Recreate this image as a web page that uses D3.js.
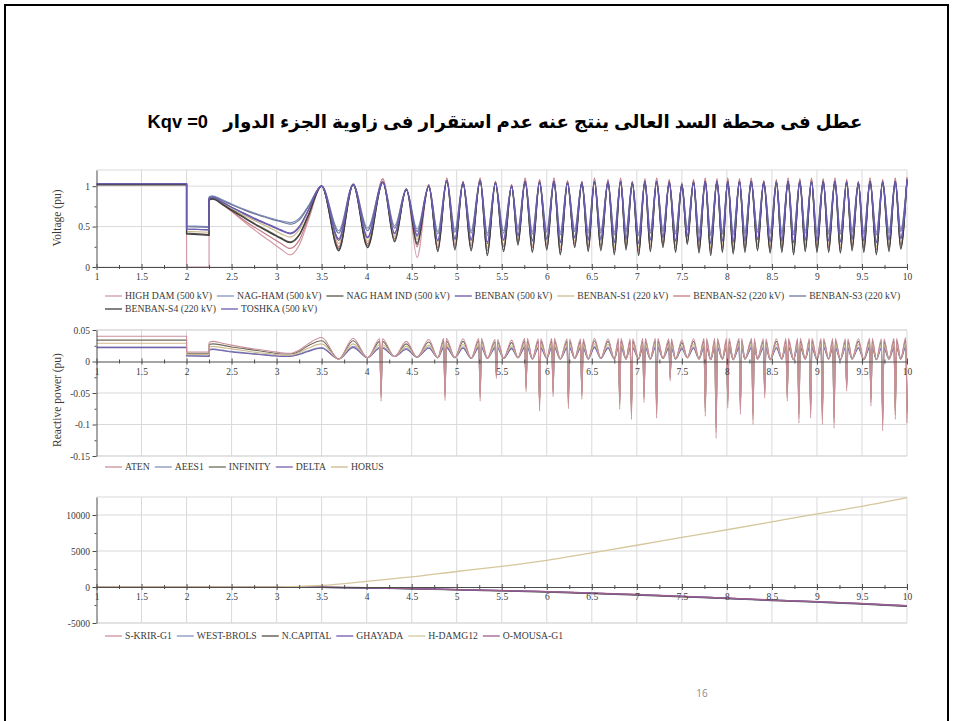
<!DOCTYPE html>
<html>
<head>
<meta charset="utf-8">
<script src="https://cdn.jsdelivr.net/npm/d3@7"></script>
<style>
  html, body { margin: 0; padding: 0; background: #fff; }
  svg { display: block; }
</style>
</head>
<body>
<svg id="slide" width="954" height="721"></svg>
<script>
// ---------------- data ----------------
const titleText = "عطل فى محطة السد العالى ينتج عنه عدم استقرار فى زاوية الجزء الدوار   Kqv =0";
const pageNumber = "16";

const xTicks = [1, 1.5, 2, 2.5, 3, 3.5, 4, 4.5, 5, 5.5, 6, 6.5, 7, 7.5, 8, 8.5, 9, 9.5, 10];
const xTickLabels = ["1", "1.5", "2", "2.5", "3", "3.5", "4", "4.5", "5", "5.5", "6", "6.5", "7", "7.5", "8", "8.5", "9", "9.5", "10"];
const xMinorTicks = [1.25, 1.75, 2.25, 2.75, 3.25, 3.75, 4.25, 4.75, 5.25, 5.75, 6.25, 6.75, 7.25, 7.75, 8.25, 8.75, 9.25, 9.75];

// event times: fault applied / cleared
const faultOn = 2, faultOff = 2.25;

// ----- voltage panel -----
const voltTicks = [0, 0.5, 1];
const voltTickLabels = ["0", "0.5", "1"];
const voltMinor = [0.25, 0.75];
const voltNames = ["HIGH DAM (500 kV)", "NAG-HAM (500 kV)", "NAG HAM IND (500 kV)", "BENBAN (500 kV)",
  "BENBAN-S1 (220 kV)", "BENBAN-S2 (220 kV)", "BENBAN-S3 (220 kV)", "BENBAN-S4 (220 kV)", "TOSHKA (500 kV)"];
const voltColors = ["#d49aa5", "#8193bf", "#56564b", "#6c56a6", "#cdbb8c", "#c47a86", "#6e7499", "#3e3e3e", "#6a5cb0"];
const voltPre = [1.03, 1.03, 1.02, 1.03, 1.02, 1.02, 1.03, 1.02, 1.03];
const voltFaultStart = [0, 0.51, 0.42, 0.47, 0.44, 0.41, 0.50, 0.41, 0.47];
const voltFaultEnd = [0, 0.50, 0.40, 0.46, 0.43, 0.40, 0.49, 0.39, 0.46];

const recT = [2.25, 2.29, 2.4, 2.5, 2.65, 2.8, 2.95, 3.05, 3.15, 3.25, 3.35, 3.5];
const recHighDam   = [0.86, 0.87, 0.78, 0.69, 0.55, 0.42, 0.30, 0.22, 0.15, 0.27, 0.57, 1.00];
const recNagHam    = [0.87, 0.88, 0.83, 0.78, 0.71, 0.65, 0.60, 0.57, 0.55, 0.60, 0.75, 1.00];
const recNagHamInd = [0.84, 0.85, 0.78, 0.71, 0.61, 0.51, 0.42, 0.36, 0.31, 0.40, 0.64, 1.00];
const recBenban    = [0.85, 0.86, 0.80, 0.74, 0.66, 0.58, 0.51, 0.46, 0.42, 0.50, 0.70, 1.00];
const recBenbanS1  = [0.84, 0.85, 0.79, 0.72, 0.63, 0.55, 0.47, 0.41, 0.37, 0.46, 0.68, 1.00];
const recBenbanS2  = [0.84, 0.85, 0.77, 0.69, 0.57, 0.46, 0.36, 0.29, 0.23, 0.33, 0.60, 1.00];
const recBenbanS3  = [0.86, 0.87, 0.82, 0.77, 0.70, 0.64, 0.59, 0.56, 0.53, 0.58, 0.74, 1.00];
const recBenbanS4  = [0.83, 0.84, 0.77, 0.70, 0.60, 0.50, 0.41, 0.35, 0.30, 0.39, 0.63, 1.00];
const recToshka    = [0.85, 0.86, 0.80, 0.74, 0.65, 0.57, 0.50, 0.45, 0.41, 0.49, 0.70, 1.00];

// rotor-swing oscillation: times of the maxima and minima after 3.5 s
const swingPeakT = [3.85, 4.18, 4.44, 4.69, 4.89, 5.07, 5.26, 5.43, 5.61, 5.76,
  5.92, 6.08, 6.23, 6.39, 6.53, 6.68, 6.82, 6.95, 7.09, 7.22,
  7.36, 7.5, 7.63, 7.76, 7.89, 8.01, 8.14, 8.27, 8.41, 8.55,
  8.68, 8.81, 8.94, 9.07, 9.2, 9.33, 9.46, 9.59, 9.73, 9.87,
  10.0];
const swingTroughT = [3.69, 4.01, 4.31, 4.56, 4.79, 4.98, 5.16, 5.34, 5.52, 5.68,
  5.84, 6.0, 6.15, 6.31, 6.46, 6.6, 6.75, 6.88, 7.02, 7.15,
  7.29, 7.43, 7.56, 7.69, 7.82, 7.95, 8.07, 8.2, 8.34, 8.48,
  8.61, 8.74, 8.87, 9.0, 9.13, 9.26, 9.39, 9.52, 9.66, 9.8,
  9.93];
const peakBus = [1.02, 1.05, 0.96, 1.00, 1.07, 1.04, 1.07, 1.04, 1.00, 1.06,
  1.05, 1.06, 1.04, 1.04, 1.06, 1.05, 1.06, 1.04, 1.06, 1.06,
  1.05, 1.02, 1.05, 1.06, 1.06, 1.06, 1.06, 1.06, 1.05, 1.05,
  1.06, 1.06, 1.06, 1.06, 1.06, 1.05, 1.04, 1.06, 1.05, 1.06,
  1.08];
const peakHighDam = [1.03, 1.09, 0.97, 1.02, 1.10, 1.06, 1.10, 1.06, 1.02, 1.10,
  1.08, 1.10, 1.07, 1.06, 1.10, 1.08, 1.10, 1.06, 1.09, 1.10,
  1.08, 1.04, 1.08, 1.10, 1.09, 1.10, 1.09, 1.10, 1.07, 1.08,
  1.10, 1.09, 1.10, 1.09, 1.10, 1.08, 1.06, 1.10, 1.08, 1.10,
  1.11];
const troughHighDam = [0.24, 0.28, 0.35, 0.12, 0.24, 0.27, 0.26, 0.20, 0.25, 0.32,
  0.24, 0.27, 0.22, 0.29, 0.25, 0.26, 0.22, 0.27, 0.20, 0.25,
  0.29, 0.24, 0.32, 0.23, 0.21, 0.24, 0.22, 0.24, 0.26, 0.23,
  0.24, 0.22, 0.25, 0.24, 0.24, 0.23, 0.26, 0.24, 0.22, 0.25,
  0.28];
const troughNagHam = [0.45, 0.48, 0.51, 0.47, 0.44, 0.46, 0.45, 0.42, 0.45, 0.49,
  0.44, 0.46, 0.43, 0.47, 0.45, 0.45, 0.43, 0.46, 0.42, 0.45,
  0.47, 0.44, 0.49, 0.44, 0.42, 0.44, 0.43, 0.44, 0.46, 0.44,
  0.44, 0.43, 0.45, 0.44, 0.44, 0.44, 0.46, 0.44, 0.43, 0.45,
  0.47];
const troughNagHamInd = [0.22, 0.26, 0.33, 0.30, 0.21, 0.23, 0.22, 0.16, 0.21, 0.29,
  0.20, 0.23, 0.17, 0.26, 0.21, 0.22, 0.17, 0.23, 0.16, 0.21,
  0.26, 0.20, 0.30, 0.19, 0.16, 0.20, 0.18, 0.20, 0.22, 0.19,
  0.20, 0.17, 0.21, 0.20, 0.20, 0.19, 0.22, 0.20, 0.17, 0.21,
  0.24];
const troughBenban = [0.33, 0.36, 0.41, 0.38, 0.32, 0.34, 0.33, 0.29, 0.33, 0.38,
  0.32, 0.34, 0.30, 0.36, 0.33, 0.33, 0.30, 0.34, 0.29, 0.33,
  0.36, 0.32, 0.38, 0.31, 0.29, 0.32, 0.31, 0.32, 0.34, 0.31,
  0.32, 0.30, 0.33, 0.32, 0.32, 0.31, 0.34, 0.32, 0.30, 0.33,
  0.35];
const troughBenbanS1 = [0.29, 0.32, 0.38, 0.34, 0.28, 0.30, 0.29, 0.24, 0.28, 0.35,
  0.27, 0.30, 0.25, 0.32, 0.28, 0.29, 0.25, 0.30, 0.24, 0.28,
  0.32, 0.27, 0.35, 0.26, 0.24, 0.27, 0.26, 0.27, 0.29, 0.26,
  0.27, 0.25, 0.28, 0.27, 0.27, 0.26, 0.29, 0.27, 0.25, 0.28,
  0.31];
const troughBenbanS2 = [0.25, 0.29, 0.35, 0.25, 0.24, 0.27, 0.26, 0.20, 0.25, 0.32,
  0.24, 0.27, 0.21, 0.29, 0.25, 0.26, 0.21, 0.27, 0.20, 0.25,
  0.29, 0.24, 0.32, 0.23, 0.20, 0.24, 0.22, 0.24, 0.26, 0.23,
  0.24, 0.21, 0.25, 0.24, 0.24, 0.23, 0.26, 0.24, 0.21, 0.25,
  0.28];
const troughBenbanS3 = [0.42, 0.45, 0.48, 0.44, 0.41, 0.43, 0.42, 0.39, 0.42, 0.46,
  0.41, 0.43, 0.40, 0.44, 0.42, 0.42, 0.40, 0.43, 0.39, 0.42,
  0.44, 0.41, 0.46, 0.41, 0.39, 0.41, 0.40, 0.41, 0.43, 0.41,
  0.41, 0.40, 0.42, 0.41, 0.41, 0.41, 0.43, 0.41, 0.40, 0.42,
  0.44];
const troughBenbanS4 = [0.20, 0.24, 0.31, 0.28, 0.19, 0.21, 0.20, 0.14, 0.19, 0.27,
  0.18, 0.21, 0.15, 0.24, 0.19, 0.20, 0.15, 0.21, 0.14, 0.19,
  0.24, 0.18, 0.28, 0.17, 0.14, 0.18, 0.16, 0.18, 0.20, 0.17,
  0.18, 0.15, 0.19, 0.18, 0.18, 0.17, 0.20, 0.18, 0.15, 0.19,
  0.22];
const troughToshka = [0.35, 0.37, 0.42, 0.40, 0.33, 0.35, 0.34, 0.31, 0.34, 0.39,
  0.33, 0.35, 0.31, 0.37, 0.34, 0.35, 0.31, 0.35, 0.30, 0.34,
  0.37, 0.33, 0.39, 0.32, 0.30, 0.33, 0.32, 0.33, 0.35, 0.32,
  0.33, 0.31, 0.34, 0.33, 0.33, 0.32, 0.35, 0.33, 0.31, 0.34,
  0.36];

// ----- reactive power panel -----
const qTicks = [0.05, 0, -0.05, -0.1, -0.15];
const qTickLabels = ["0.05", "0", "-0.05", "-0.1", "-0.15"];
const qMinor = [0.025, -0.025, -0.075, -0.125];
const qNames = ["ATEN", "AEES1", "INFINITY", "DELTA", "HORUS"];
const qColors = ["#c98e9a", "#8494bd", "#6d6b58", "#7660a9", "#cfb98c"];
const qPre = [0.040, 0.023, 0.034, 0.022, 0.029];
const qFaultStart = [0.015, 0.009, 0.013, 0.009, 0.011];
const qFaultEnd = [0.015, 0.009, 0.013, 0.008, 0.011];
const qRecAten     = [0.030, 0.032, 0.029, 0.026, 0.022, 0.019, 0.016, 0.014, 0.013, 0.018, 0.028, 0.038];
const qRecAees1    = [0.019, 0.020, 0.018, 0.016, 0.014, 0.012, 0.010, 0.009, 0.009, 0.012, 0.017, 0.022];
const qRecInfinity = [0.027, 0.028, 0.026, 0.023, 0.020, 0.017, 0.014, 0.012, 0.012, 0.016, 0.025, 0.033];
const qRecDelta    = [0.018, 0.019, 0.017, 0.015, 0.013, 0.011, 0.009, 0.008, 0.008, 0.011, 0.016, 0.021];
const qRecHorus    = [0.023, 0.024, 0.022, 0.020, 0.017, 0.014, 0.012, 0.010, 0.010, 0.014, 0.021, 0.028];
const qTroughAll = [0.004, 0.006, 0.008, 0.007, 0.006, 0.006, 0.005, 0.005, 0.005, 0.006,
  0.004, 0.005, 0.004, 0.005, 0.004, 0.005, 0.004, 0.004, 0.004, 0.004,
  0.005, 0.004, 0.006, 0.004, 0.003, 0.004, 0.003, 0.004, 0.004, 0.003,
  0.004, 0.003, 0.004, 0.003, 0.004, 0.003, 0.004, 0.003, 0.003, 0.004,
  0.004];
const qPeakAten = [0.037, 0.036, 0.032, 0.035, 0.037, 0.036, 0.037, 0.035, 0.034, 0.037,
  0.036, 0.037, 0.036, 0.036, 0.037, 0.036, 0.037, 0.036, 0.037, 0.037,
  0.036, 0.034, 0.036, 0.037, 0.037, 0.037, 0.037, 0.037, 0.036, 0.036,
  0.037, 0.037, 0.037, 0.037, 0.037, 0.036, 0.036, 0.037, 0.036, 0.037,
  0.038];
const qPeakAees1 = [0.024, 0.023, 0.021, 0.023, 0.024, 0.023, 0.024, 0.023, 0.022, 0.024,
  0.023, 0.024, 0.023, 0.023, 0.024, 0.023, 0.024, 0.023, 0.024, 0.024,
  0.023, 0.022, 0.023, 0.024, 0.024, 0.024, 0.024, 0.024, 0.023, 0.023,
  0.024, 0.024, 0.024, 0.024, 0.024, 0.023, 0.023, 0.024, 0.023, 0.024,
  0.025];
const qPeakInfinity = [0.033, 0.032, 0.028, 0.031, 0.033, 0.032, 0.033, 0.031, 0.030, 0.033,
  0.032, 0.033, 0.032, 0.032, 0.033, 0.032, 0.033, 0.032, 0.033, 0.033,
  0.032, 0.030, 0.032, 0.033, 0.033, 0.033, 0.033, 0.033, 0.032, 0.032,
  0.033, 0.033, 0.033, 0.033, 0.033, 0.032, 0.032, 0.033, 0.032, 0.033,
  0.034];
const qPeakDelta = [0.022, 0.021, 0.019, 0.021, 0.022, 0.021, 0.022, 0.021, 0.020, 0.022,
  0.021, 0.022, 0.021, 0.021, 0.022, 0.021, 0.022, 0.021, 0.022, 0.022,
  0.021, 0.020, 0.021, 0.022, 0.022, 0.022, 0.022, 0.022, 0.021, 0.021,
  0.022, 0.022, 0.022, 0.022, 0.022, 0.021, 0.021, 0.022, 0.021, 0.022,
  0.023];
const qPeakHorus = [0.028, 0.027, 0.024, 0.026, 0.028, 0.027, 0.028, 0.026, 0.025, 0.028,
  0.027, 0.028, 0.027, 0.027, 0.028, 0.027, 0.028, 0.027, 0.028, 0.028,
  0.027, 0.025, 0.027, 0.028, 0.028, 0.028, 0.028, 0.028, 0.027, 0.027,
  0.028, 0.028, 0.028, 0.028, 0.028, 0.027, 0.027, 0.028, 0.027, 0.028,
  0.029];
// sharp negative reactive-power dips
const qSpikeT = [4.16, 4.87, 5.26, 5.44, 5.77, 5.92, 6.07, 6.24, 6.39, 6.81,
  6.94, 7.08, 7.22, 7.37, 7.76, 7.88, 8.01, 8.15, 8.29, 8.42,
  8.67, 8.80, 8.93, 9.06, 9.19, 9.33, 9.60, 9.73, 9.87, 10.0];
const qSpikeAten = [-0.063, -0.062, -0.063, -0.027, -0.048, -0.079, -0.056, -0.075, -0.060, -0.076,
  -0.092, -0.065, -0.090, -0.031, -0.087, -0.122, -0.074, -0.084, -0.100, -0.058,
  -0.063, -0.098, -0.090, -0.100, -0.106, -0.047, -0.071, -0.110, -0.092, -0.098];
const qSpikeAees1 = [-0.046, -0.045, -0.046, -0.018, -0.035, -0.058, -0.041, -0.055, -0.044, -0.056,
  -0.068, -0.048, -0.066, -0.022, -0.064, -0.090, -0.054, -0.062, -0.074, -0.042,
  -0.046, -0.072, -0.066, -0.074, -0.078, -0.034, -0.052, -0.081, -0.068, -0.072];
const qSpikeInfinity = [-0.054, -0.053, -0.054, -0.022, -0.041, -0.067, -0.048, -0.064, -0.051, -0.065,
  -0.079, -0.056, -0.077, -0.026, -0.074, -0.104, -0.063, -0.071, -0.085, -0.049,
  -0.054, -0.083, -0.077, -0.085, -0.090, -0.040, -0.060, -0.094, -0.078, -0.083];
const qSpikeDelta = [-0.050, -0.049, -0.050, -0.020, -0.038, -0.063, -0.045, -0.060, -0.048, -0.061,
  -0.074, -0.052, -0.072, -0.024, -0.070, -0.098, -0.059, -0.067, -0.080, -0.046,
  -0.050, -0.078, -0.072, -0.080, -0.085, -0.037, -0.057, -0.088, -0.074, -0.078];
const qSpikeHorus = [-0.058, -0.057, -0.058, -0.024, -0.044, -0.072, -0.051, -0.069, -0.055, -0.070,
  -0.085, -0.060, -0.083, -0.028, -0.080, -0.112, -0.068, -0.077, -0.092, -0.053,
  -0.058, -0.090, -0.083, -0.092, -0.097, -0.043, -0.065, -0.101, -0.085, -0.090];

// ----- rotor angle panel -----
const angTicks = [10000, 5000, 0, -5000];
const angTickLabels = ["10000", "5000", "0", "-5000"];
const angMinor = [7500, 2500, -2500];
const angNames = ["S-KRIR-G1", "WEST-BROLS", "N.CAPITAL", "GHAYADA", "H-DAMG12", "O-MOUSA-G1"];
const angColors = ["#d1909b", "#8295c0", "#4f4f47", "#7059aa", "#d6c69c", "#9c5f8b"];
const angT = [1, 1.5, 2, 2.5, 3, 3.5, 4, 4.5, 5, 5.5, 6, 6.5, 7, 7.5, 8, 8.5, 9, 9.5, 10];
const angSKrir    = [0, 0, 0, 0, -5, -30, -90, -210, -350, -480, -630, -830, -1040, -1280, -1540, -1800, -2030, -2290, -2590];
const angWestBrols = [0, 0, 0, 0, -8, -40, -110, -230, -370, -500, -650, -850, -1060, -1300, -1560, -1820, -2050, -2310, -2620];
const angNCapital = [0, 0, 0, 0, -12, -55, -140, -270, -410, -550, -700, -900, -1120, -1360, -1620, -1880, -2110, -2370, -2690];
const angGhayada  = [0, 0, 0, 0, -8, -42, -115, -235, -375, -505, -655, -855, -1065, -1305, -1565, -1825, -2055, -2315, -2625];
const angHDam     = [0, 0, 0, 0, 10, 220, 780, 1400, 2150, 2870, 3700, 4750, 5800, 6900, 7950, 9050, 10150, 11200, 12400];
const angOMousa   = [0, 0, 0, 0, -6, -35, -100, -220, -360, -490, -640, -840, -1050, -1290, -1550, -1810, -2040, -2300, -2600];

// ---------------- drawing ----------------
const svg = d3.select("#slide");
const serif = "'Liberation Serif', 'Times New Roman', serif";
const axisColor = "#4d4d4d";
const gridColor = "#d9d9d9";
const SPIKE_HALF = 0.014;

// slide frame
svg.append("rect")
  .attr("x", 5).attr("y", 5).attr("width", 943).attr("height", 740)
  .attr("fill", "none").attr("stroke", "#000").attr("stroke-width", 2);

// title (spaces kept as typed)
svg.append("text")
  .attr("x", 505).attr("y", 128)
  .attr("direction", "rtl")
  .attr("text-anchor", "middle")
  .style("white-space", "pre")
  .style("font-family", "'Liberation Sans', 'DejaVu Sans', sans-serif")
  .style("font-weight", "bold")
  .style("font-size", "18.25px")
  .attr("fill", "#000")
  .text(titleText);

// page number
svg.append("text")
  .attr("x", 702).attr("y", 697)
  .attr("text-anchor", "middle")
  .style("font-family", "'Open Sans', 'Liberation Sans', sans-serif")
  .style("font-size", "10px")
  .attr("fill", "#8a8a8a")
  .text(pageNumber);

const x = d3.scaleLinear().domain([1, 10]).range([96.5, 907]);

function drawFrame(y, ticks, labels, minor, id) {
  const [yBot, yTop] = y.range();
  const g = svg.append("g");
  // grid
  g.selectAll(".vg").data(xTicks.slice(1)).join("line")
    .attr("x1", d => x(d)).attr("x2", d => x(d))
    .attr("y1", yTop).attr("y2", yBot)
    .attr("stroke", gridColor).attr("stroke-width", 1);
  const hLines = ticks.filter(v => v !== 0).concat([y.domain()[1], y.domain()[0]]);
  g.selectAll(".hg").data(hLines).join("line")
    .attr("x1", x(1)).attr("x2", x(10))
    .attr("y1", d => y(d)).attr("y2", d => y(d))
    .attr("stroke", gridColor).attr("stroke-width", 1);

  svg.append("clipPath").attr("id", id)
    .append("rect")
    .attr("x", x(1)).attr("y", yTop - 1)
    .attr("width", x(10) - x(1) + 1).attr("height", yBot - yTop + 2);
  return g;
}

function drawAxes(y, ticks, labels, minor) {
  const y0 = y(0);
  // x axis through zero
  const xa = svg.append("g").attr("transform", `translate(0,${y0})`)
    .call(d3.axisBottom(x).tickValues(xTicks).tickFormat((d, i) => xTickLabels[i])
      .tickSize(3).tickPadding(3.5).tickSizeOuter(0));
  xa.selectAll(".tick line").attr("y1", -3);
  const xm = svg.append("g").attr("transform", `translate(0,${y0})`)
    .call(d3.axisBottom(x).tickValues(xMinorTicks).tickFormat("").tickSize(2).tickSizeOuter(0));
  xm.selectAll(".tick line").attr("y1", -2);
  xm.select(".domain").remove();

  // y axis at t = 1
  const ya = svg.append("g").attr("transform", `translate(${x(1)},0)`)
    .call(d3.axisLeft(y).tickValues(ticks).tickFormat((d, i) => labels[i])
      .tickSize(4).tickPadding(2.5).tickSizeOuter(0));
  const ym = svg.append("g").attr("transform", `translate(${x(1)},0)`)
    .call(d3.axisLeft(y).tickValues(minor).tickFormat("").tickSize(2).tickSizeOuter(0));
  ym.select(".domain").remove();

  [xa, xm, ya, ym].forEach(a => {
    a.selectAll("path, line").attr("stroke", axisColor).attr("stroke-width", 1);
    a.selectAll("text").attr("fill", "#3a3a3a")
      .style("font-family", serif).style("font-size", "9.5px");
  });
}

function drawLegend(names, colors, x0, y0, rowGap, breakAfter) {
  let cx = x0, cy = y0;
  names.forEach((n, i) => {
    if (breakAfter && i === breakAfter) { cx = x0; cy += rowGap; }
    const g = svg.append("g");
    g.append("line")
      .attr("x1", cx).attr("x2", cx + 17)
      .attr("y1", cy).attr("y2", cy)
      .attr("stroke", colors[i]).attr("stroke-width", 1.3);
    const t = g.append("text")
      .attr("x", cx + 20).attr("y", cy + 3.2)
      .attr("fill", "#3a3a3a")
      .style("font-family", serif).style("font-size", "9.7px")
      .text(n);
    cx += 20 + t.node().getComputedTextLength() + 5;
  });
}

function yTitle(text, xPos, yPos) {
  svg.append("text")
    .attr("transform", `translate(${xPos},${yPos}) rotate(-90)`)
    .attr("text-anchor", "middle")
    .attr("fill", "#3a3a3a")
    .style("font-family", serif).style("font-size", "11.5px")
    .text(text);
}

// build the two parts of a trace: the stepped fault part and the smooth swing part
function buildTrace(pre, fs, fe, rec, peaks, troughs, spikeVals) {
  const stepped = [[1, pre], [faultOn, pre], [faultOn, fs], [faultOff, fe], [faultOff, rec[0]]];
  const smooth = recT.map((t, i) => [t, rec[i]]);
  swingTroughT.forEach((t, i) => {
    smooth.push([t, troughs[i]]);
    const tp = swingPeakT[i];
    const j = spikeVals ? qSpikeT.findIndex(s => Math.abs(s - tp) < 0.03) : -1;
    if (j < 0) {
      smooth.push([tp, peaks[i]]);
    } else {
      const ts = qSpikeT[j];
      smooth.push([ts - SPIKE_HALF, peaks[i]], [ts, spikeVals[j]]);
      if (ts + SPIKE_HALF <= 10) smooth.push([ts + SPIKE_HALF, peaks[i]]);
    }
  });
  return { stepped, smooth };
}

function drawTrace(y, trace, color, width, clipId) {
  const g = svg.append("g").attr("clip-path", `url(#${clipId})`);
  const lin = d3.line().x(d => x(d[0])).y(d => y(d[1]));
  const smo = d3.line().x(d => x(d[0])).y(d => y(d[1])).curve(d3.curveMonotoneX);
  g.append("path").attr("d", lin(trace.stepped))
    .attr("fill", "none").attr("stroke", color).attr("stroke-width", width);
  g.append("path").attr("d", smo(trace.smooth))
    .attr("fill", "none").attr("stroke", color).attr("stroke-width", width)
    .attr("stroke-linejoin", "round");
}

// ===== panel 1: voltage =====
const yV = d3.scaleLinear().domain([0, 1.2]).range([267, 170]);
drawFrame(yV, voltTicks, voltTickLabels, voltMinor, "clipV");
const voltRec = [recHighDam, recNagHam, recNagHamInd, recBenban, recBenbanS1, recBenbanS2, recBenbanS3, recBenbanS4, recToshka];
const voltTrough = [troughHighDam, troughNagHam, troughNagHamInd, troughBenban, troughBenbanS1, troughBenbanS2, troughBenbanS3, troughBenbanS4, troughToshka];
const voltPeak = [peakHighDam, peakBus, peakBus, peakBus, peakBus, peakHighDam, peakBus, peakBus, peakBus];
const voltOrder = [0, 5, 4, 1, 6, 2, 7, 3, 8];
voltOrder.forEach(i => {
  const tr = buildTrace(voltPre[i], voltFaultStart[i], voltFaultEnd[i], voltRec[i], voltPeak[i], voltTrough[i], null);
  drawTrace(yV, tr, voltColors[i], 1.2, "clipV");
});
drawAxes(yV, voltTicks, voltTickLabels, voltMinor);
yTitle("Voltage (pu)", 61, 218);
drawLegend(voltNames, voltColors, 105, 296, 13, 7);

// ===== panel 2: reactive power =====
const yQ = d3.scaleLinear().domain([-0.15, 0.05]).range([456, 330]);
drawFrame(yQ, qTicks, qTickLabels, qMinor, "clipQ");
const qRec = [qRecAten, qRecAees1, qRecInfinity, qRecDelta, qRecHorus];
const qPeak = [qPeakAten, qPeakAees1, qPeakInfinity, qPeakDelta, qPeakHorus];
const qSpike = [qSpikeAten, qSpikeAees1, qSpikeInfinity, qSpikeDelta, qSpikeHorus];
const qOrder = [1, 3, 2, 4, 0];
qOrder.forEach(i => {
  const tr = buildTrace(qPre[i], qFaultStart[i], qFaultEnd[i], qRec[i], qPeak[i], qTroughAll, qSpike[i]);
  drawTrace(yQ, tr, qColors[i], 1.1, "clipQ");
});
drawAxes(yQ, qTicks, qTickLabels, qMinor);
yTitle("Reactive power (pu)", 61, 400);
drawLegend(qNames, qColors, 105, 467, 13, 0);

// ===== panel 3: rotor angle =====
const yA = d3.scaleLinear().domain([-5000, 12500]).range([623, 497]);
drawFrame(yA, angTicks, angTickLabels, angMinor, "clipA");
const angSeries = [angSKrir, angWestBrols, angNCapital, angGhayada, angHDam, angOMousa];
const angLine = d3.line().x((d, i) => x(angT[i])).y(d => yA(d)).curve(d3.curveMonotoneX);
const angOrder = [0, 1, 2, 3, 5, 4];
angOrder.forEach(i => {
  svg.append("path")
    .attr("clip-path", "url(#clipA)")
    .attr("d", angLine(angSeries[i]))
    .attr("fill", "none").attr("stroke", angColors[i]).attr("stroke-width", 1.3);
});
drawAxes(yA, angTicks, angTickLabels, angMinor);
drawLegend(angNames, angColors, 105, 636, 13, 0);
</script>
</body>
</html>
